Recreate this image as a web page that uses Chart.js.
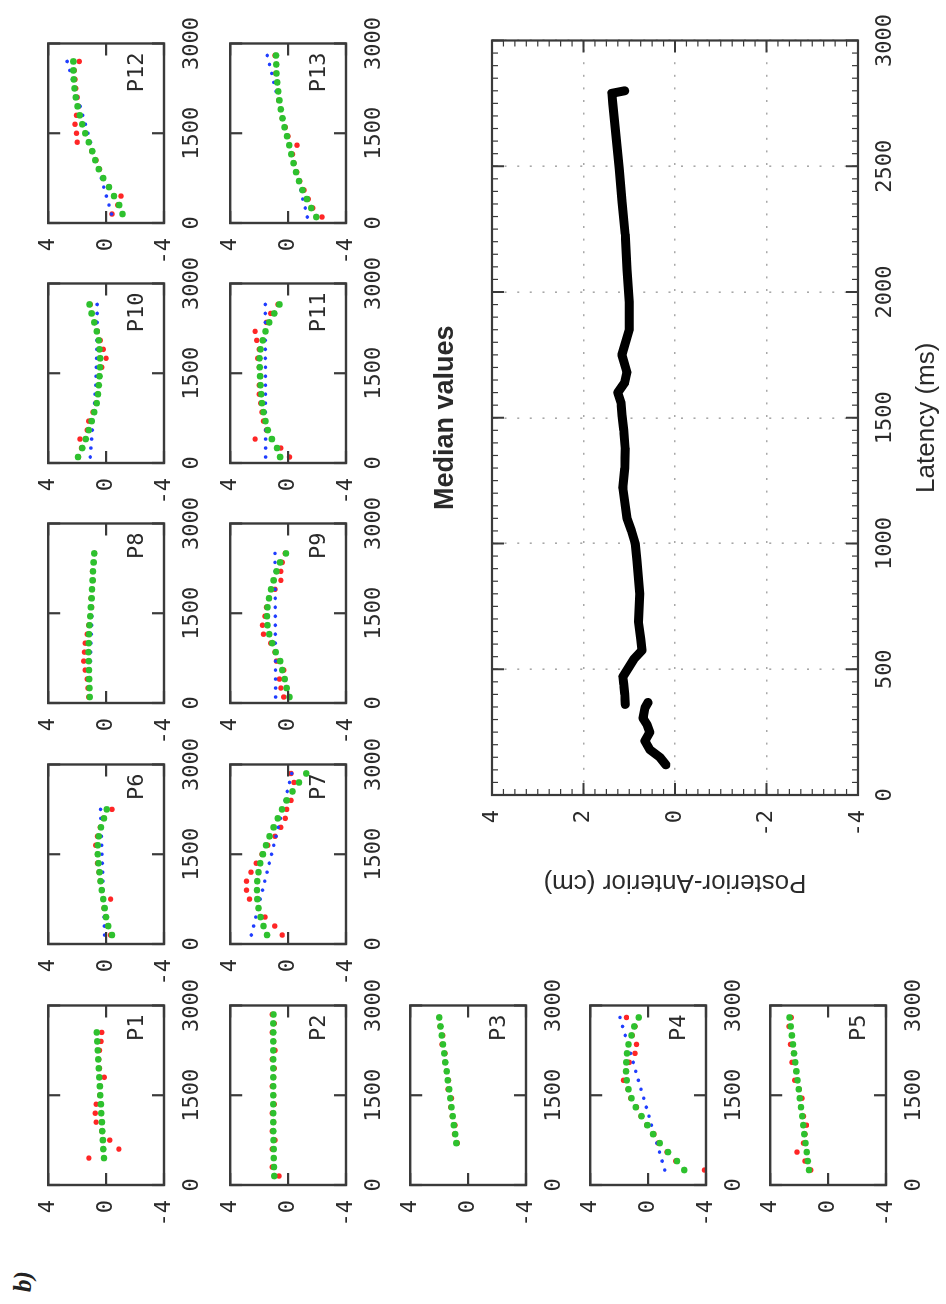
<!DOCTYPE html>
<html>
<head>
<meta charset="utf-8">
<script src="https://cdn.jsdelivr.net/npm/chart.js@4.4.0/dist/chart.umd.min.js"></script>
<style>
  html, body { margin: 0; padding: 0; background: #fff; width: 946px; height: 1304px; overflow: hidden; }
  /* the figure is drawn upright (1304 x 946) and then turned a quarter left */
  #fig { position: absolute; left: 0; top: 0; width: 1304px; height: 946px;
         transform-origin: 0 0; transform: translate(0, 1304px) rotate(-90deg); }
  #fig canvas { position: absolute; }
  #tag { position: absolute; left: 12px; top: 9px; font: italic bold 25px "Liberation Serif", serif; color: #222; }
</style>
</head>
<body>
<div id="fig"><div id="tag">b)</div></div>
<script>
// ---------- data: latency (ms) / posterior-anterior (cm) ----------
const p1Latency = [450, 600, 750, 900, 1050, 1200, 1350, 1500, 1650, 1800, 1950, 2100, 2250, 2400, 2550];
const p1Red   = [1.19, -0.88, -0.25, 0.3, 0.69, 0.75, 0.69, 0.45, 0.4, 0.13, 0.45, 0.5, 0.45, 0.35, 0.3];
const p1Blue  = [0.18, 0.21, 0.25, 0.28, 0.31, 0.34, 0.38, 0.41, 0.44, 0.48, 0.51, 0.54, 0.57, 0.61, 0.64];
const p1Green = [0.15, 0.19, 0.22, 0.26, 0.29, 0.33, 0.36, 0.40, 0.43, 0.47, 0.51, 0.54, 0.58, 0.61, 0.65];

const p2Latency = [150, 300, 450, 600, 750, 900, 1050, 1200, 1350, 1500, 1650, 1800, 1950, 2100, 2250, 2400, 2550, 2700, 2850];
const p2Red   = [0.63, 1.1, 1.0, 1.1, 0.9, 1.1, 1.0, 1.1, 0.95, 1.0, 1.1, 1.0, 0.95, 1.1, 0.9, 1.0, 1.1, 0.95, 1.1];
const p2Blue  = [0.98, 0.98, 0.99, 0.99, 1.0, 1.0, 1.0, 1.01, 1.01, 1.01, 1.02, 1.02, 1.02, 1.03, 1.03, 1.03, 1.04, 1.04, 1.04];
const p2Green = [0.95, 0.97, 0.99, 1.0, 1.01, 1.02, 1.03, 1.03, 1.03, 1.03, 1.03, 1.03, 1.03, 1.03, 1.03, 1.03, 1.02, 1.02, 1.01];

const p3Latency = [700, 850, 1000, 1150, 1300, 1450, 1600, 1750, 1900, 2050, 2200, 2350, 2500, 2650, 2800];
const p3Red   = [0.75, 0.95, 0.9, 1.1, 1.2, 1.15, 1.4, 1.35, 1.5, 1.6, 1.6, 1.8, 1.75, 1.95, 2.0];
const p3Blue  = [0.80, 0.89, 0.97, 1.06, 1.14, 1.23, 1.31, 1.40, 1.48, 1.57, 1.65, 1.74, 1.82, 1.91, 1.99];
const p3Green = [0.81, 0.89, 0.98, 1.06, 1.15, 1.23, 1.31, 1.40, 1.48, 1.57, 1.65, 1.73, 1.82, 1.90, 1.99];

const p4Latency = [250, 400, 550, 700, 850, 1000, 1150, 1300, 1450, 1600, 1750, 1900, 2050, 2200, 2350, 2500, 2650, 2800];
const p4Red   = [-3.9, -1.9, -1.3, -0.7, -0.4, 0.1, 0.5, 0.8, 1.2, 1.4, 1.7, 1.5, 1.3, 0.9, 0.8, 1.1, 0.9, 1.5];
const p4Blue  = [-1.15, -0.97, -0.79, -0.60, -0.42, -0.24, -0.06, 0.12, 0.30, 0.49, 0.67, 0.85, 1.03, 1.21, 1.39, 1.58, 1.76, 1.94];
const p4Green = [-2.5, -2.0, -1.38, -0.8, -0.35, 0.05, 0.45, 0.85, 1.15, 1.35, 1.48, 1.52, 1.5, 1.45, 1.35, 1.15, 0.95, 0.65];

const p5Latency = [250, 400, 550, 700, 850, 1000, 1150, 1300, 1450, 1600, 1750, 1900, 2050, 2200, 2350, 2500, 2650, 2800];
const p5Red   = [1.2, 1.6, 2.15, 1.7, 1.6, 1.5, 1.7, 1.9, 1.8, 2.0, 2.3, 2.2, 2.5, 2.4, 2.6, 2.5, 2.7, 2.55];
const p5Blue  = [1.35, 1.43, 1.50, 1.58, 1.66, 1.73, 1.81, 1.89, 1.96, 2.04, 2.12, 2.19, 2.27, 2.35, 2.42, 2.50, 2.58, 2.65];
const p5Green = [1.32, 1.40, 1.48, 1.56, 1.64, 1.71, 1.79, 1.87, 1.95, 2.03, 2.11, 2.19, 2.27, 2.35, 2.43, 2.50, 2.58, 2.66];

const p6Latency = [150, 300, 450, 600, 750, 900, 1050, 1200, 1350, 1500, 1650, 1800, 1950, 2100, 2250];
const p6Red   = [-0.3, -0.1, 0.05, 0.15, -0.31, 0.3, 0.4, 0.5, 0.6, 0.6, 0.72, 0.6, 0.4, 0.2, -0.41];
const p6Blue  = [0.1, 0.12, 0.14, 0.16, 0.18, 0.2, 0.22, 0.24, 0.26, 0.28, 0.3, 0.32, 0.34, 0.36, 0.38];
const p6Green = [-0.41, -0.15, 0.0, 0.1, 0.2, 0.3, 0.38, 0.45, 0.52, 0.58, 0.58, 0.5, 0.35, 0.15, -0.05];

const p7Latency = [150, 300, 450, 600, 750, 900, 1050, 1200, 1350, 1500, 1650, 1800, 1950, 2100, 2250, 2400, 2550, 2700, 2850];
const p7Red   = [0.41, 0.92, 1.6, 2.05, 2.67, 2.87, 2.87, 2.56, 2.2, 1.8, 1.4, 0.9, 0.51, 0.2, 0.1, -0.2, -0.3, -0.4, -0.2];
const p7Blue  = [2.54, 2.38, 2.23, 2.07, 1.92, 1.76, 1.61, 1.45, 1.30, 1.14, 0.99, 0.83, 0.68, 0.52, 0.37, 0.21, 0.06, -0.10, -0.25];
const p7Green = [1.45, 1.7, 1.9, 2.05, 2.12, 2.15, 2.13, 2.05, 1.92, 1.74, 1.52, 1.28, 1.0, 0.72, 0.42, 0.1, -0.3, -0.75, -1.25];

const p8Latency = [100, 250, 400, 550, 700, 850, 1000, 1150, 1300, 1450, 1600, 1750, 1900, 2050, 2200, 2350, 2500];
const p8Red   = [1.2, 1.25, 1.3, 1.45, 1.54, 1.5, 1.44, 1.3, 1.2, 1.1, 1.0, 1.05, 0.95, 0.9, 0.95, 0.85, 0.8];
const p8Blue  = [1.15, 1.13, 1.11, 1.09, 1.07, 1.06, 1.04, 1.02, 1.0, 0.98, 0.96, 0.94, 0.92, 0.91, 0.89, 0.87, 0.85];
const p8Green = [1.13, 1.15, 1.17, 1.18, 1.2, 1.22, 1.2, 1.18, 1.15, 1.1, 1.05, 1.0, 0.97, 0.93, 0.9, 0.86, 0.82];

const p9Latency = [100, 250, 400, 550, 700, 850, 1000, 1150, 1300, 1450, 1600, 1750, 1900, 2050, 2200, 2350, 2500];
const p9Red   = [0.3, 0.5, 0.6, 0.3, 0.8, 0.9, 1.2, 1.7, 1.77, 1.6, 1.5, 1.3, 0.9, 0.5, 0.5, 0.4, 0.2];
const p9Blue  = [0.86, 0.86, 0.86, 0.87, 0.87, 0.87, 0.88, 0.88, 0.88, 0.88, 0.89, 0.89, 0.89, 0.9, 0.9, 0.9, 0.9];
const p9Green = [-0.1, 0.1, 0.23, 0.4, 0.55, 0.85, 1.1, 1.3, 1.42, 1.46, 1.42, 1.32, 1.18, 1.0, 0.8, 0.55, 0.15];

const p10Latency = [100, 250, 400, 550, 700, 850, 1000, 1150, 1300, 1450, 1600, 1750, 1900, 2050, 2200, 2350, 2500, 2650];
const p10Red   = [1.9, 1.7, 1.8, 1.3, 1.2, 0.9, 0.7, 0.6, 0.5, 0.5, 0.3, 0.0, 0.2, 0.4, 0.6, 0.8, 1.0, 1.1];
const p10Blue  = [1.1, 1.05, 1.0, 0.95, 0.9, 0.85, 0.8, 0.76, 0.72, 0.7, 0.68, 0.66, 0.65, 0.64, 0.63, 0.62, 0.62, 0.62];
const p10Green = [1.94, 1.64, 1.4, 1.2, 1.0, 0.82, 0.65, 0.56, 0.5, 0.45, 0.42, 0.41, 0.45, 0.5, 0.65, 0.82, 1.0, 1.15];

const p11Latency = [100, 250, 400, 550, 700, 850, 1000, 1150, 1300, 1450, 1600, 1750, 1900, 2050, 2200, 2350, 2500, 2650];
const p11Red   = [-0.1, 0.5, 2.28, 1.5, 1.7, 1.8, 1.9, 2.0, 2.0, 1.9, 2.0, 2.1, 2.0, 2.17, 2.28, 1.5, 1.2, 0.7];
const p11Blue  = [1.55, 1.55, 1.55, 1.56, 1.56, 1.56, 1.56, 1.56, 1.56, 1.56, 1.56, 1.57, 1.57, 1.57, 1.57, 1.57, 1.57, 1.57];
const p11Green = [0.55, 0.76, 1.12, 1.4, 1.56, 1.7, 1.8, 1.86, 1.9, 1.93, 1.95, 1.97, 1.9, 1.75, 1.56, 1.3, 0.95, 0.6];

const p12Latency = [150, 300, 450, 600, 750, 900, 1050, 1200, 1350, 1500, 1650, 1800, 1950, 2100, 2250, 2400, 2550, 2700];
const p12Red   = [-0.41, -0.8, -1.03, -0.2, 0.2, 0.45, 0.7, 1.0, 2.0, 2.05, 2.15, 2.05, 1.9, 2.0, 2.1, 2.15, 2.2, 1.85];
const p12Blue  = [-0.38, -0.20, -0.02, 0.16, 0.34, 0.52, 0.70, 0.89, 1.07, 1.25, 1.43, 1.61, 1.79, 1.97, 2.15, 2.33, 2.51, 2.69];
const p12Green = [-1.13, -0.9, -0.55, -0.2, 0.2, 0.5, 0.75, 0.95, 1.2, 1.44, 1.65, 1.82, 1.97, 2.1, 2.18, 2.23, 2.26, 2.26];

const p13Latency = [100, 250, 400, 550, 700, 850, 1000, 1150, 1300, 1450, 1600, 1750, 1900, 2050, 2200, 2350, 2500, 2650, 2800];
const p13Red   = [-2.34, -1.7, -1.4, -1.1, -0.8, -0.6, -0.4, -0.3, -0.62, 0.0, 0.2, 0.4, 0.5, 0.65, 0.7, 0.75, 0.85, 0.8, 0.9];
const p13Blue  = [-1.33, -1.18, -1.02, -0.87, -0.71, -0.56, -0.41, -0.25, -0.10, 0.06, 0.21, 0.36, 0.52, 0.67, 0.83, 0.98, 1.13, 1.29, 1.44];
const p13Green = [-1.94, -1.6, -1.3, -1.0, -0.75, -0.55, -0.38, -0.22, -0.08, 0.08, 0.25, 0.38, 0.5, 0.6, 0.68, 0.75, 0.8, 0.82, 0.83];

// median trace, two pieces (break near 370 ms)
const medianEarlyLatency = [120, 150, 180, 215, 250, 280, 305, 345, 368];
const medianEarlyPA      = [0.2, 0.33, 0.55, 0.66, 0.55, 0.61, 0.70, 0.66, 0.59];
const medianLateLatency  = [360, 400, 440, 470, 505, 540, 575, 620, 690, 800, 930, 1000, 1050, 1100, 1220, 1300, 1380, 1450, 1510, 1560, 1600, 1640, 1680, 1750, 1850, 1960, 2090, 2230, 2360, 2490, 2620, 2750, 2790, 2800];
const medianLatePA       = [1.09, 1.1, 1.12, 1.14, 1.02, 0.9, 0.72, 0.75, 0.8, 0.77, 0.83, 0.87, 0.95, 1.05, 1.14, 1.1, 1.09, 1.12, 1.16, 1.18, 1.25, 1.1, 1.05, 1.16, 1.0, 1.0, 1.05, 1.09, 1.16, 1.22, 1.29, 1.36, 1.38, 1.1];

// ---------- layout ----------
const MONO = '"DejaVu Sans Mono", monospace';
const SANS = '"Liberation Sans", Arial, sans-serif';
Chart.defaults.font.family = MONO;
Chart.defaults.color = '#2a2a2a';

const fig = document.getElementById('fig');
const BOX_W = 186, BOX_H = 129;
const PAD_L = 55, PAD_T = 15, PAD_R = 35, PAD_B = 45;
const colU = [119, 360, 601, 841, 1081];
const rowV = [35, 217, 397, 577, 757];

const panels = [
  { name: 'P1', col: 0, row: 0, t: p1Latency, red: p1Red, blue: p1Blue, green: p1Green },
  { name: 'P2', col: 0, row: 1, t: p2Latency, red: p2Red, blue: p2Blue, green: p2Green },
  { name: 'P3', col: 0, row: 2, t: p3Latency, red: p3Red, blue: p3Blue, green: p3Green },
  { name: 'P4', col: 0, row: 3, t: p4Latency, red: p4Red, blue: p4Blue, green: p4Green },
  { name: 'P5', col: 0, row: 4, t: p5Latency, red: p5Red, blue: p5Blue, green: p5Green },
  { name: 'P6', col: 1, row: 0, t: p6Latency, red: p6Red, blue: p6Blue, green: p6Green },
  { name: 'P7', col: 1, row: 1, t: p7Latency, red: p7Red, blue: p7Blue, green: p7Green },
  { name: 'P8', col: 2, row: 0, t: p8Latency, red: p8Red, blue: p8Blue, green: p8Green },
  { name: 'P9', col: 2, row: 1, t: p9Latency, red: p9Red, blue: p9Blue, green: p9Green },
  { name: 'P10', col: 3, row: 0, t: p10Latency, red: p10Red, blue: p10Blue, green: p10Green },
  { name: 'P11', col: 3, row: 1, t: p11Latency, red: p11Red, blue: p11Blue, green: p11Green },
  { name: 'P12', col: 4, row: 0, t: p12Latency, red: p12Red, blue: p12Blue, green: p12Green },
  { name: 'P13', col: 4, row: 1, t: p13Latency, red: p13Red, blue: p13Blue, green: p13Green },
];

// frame, inward ticks on all four sides, corner label / title
const frame = {
  id: 'frame',
  afterDatasetsDraw(chart, args, o) {
    const { ctx, chartArea: a, scales: { x, y } } = chart;
    const seg = (x1, y1, x2, y2) => { ctx.beginPath(); ctx.moveTo(x1, y1); ctx.lineTo(x2, y2); ctx.stroke(); };
    ctx.save();
    ctx.strokeStyle = o.color;
    o.xTicks.forEach(tk => {
      ctx.lineWidth = tk.width;
      for (let v = x.min; v <= x.max + 1e-6; v += tk.step) {
        const px = x.getPixelForValue(v);
        seg(px, a.bottom, px, a.bottom - tk.len);
        seg(px, a.top, px, a.top + tk.len);
      }
    });
    o.yTicks.forEach(tk => {
      ctx.lineWidth = tk.width;
      for (let v = y.min; v <= y.max + 1e-6; v += tk.step) {
        const py = y.getPixelForValue(v);
        seg(a.left, py, a.left + tk.len, py);
        seg(a.right, py, a.right - tk.len, py);
      }
    });
    ctx.lineWidth = o.width;
    ctx.strokeRect(a.left, a.top, a.right - a.left, a.bottom - a.top);
    ctx.fillStyle = '#2a2a2a';
    ctx.textBaseline = 'middle';
    if (o.label) {
      ctx.font = '22px ' + MONO;
      ctx.textAlign = 'right';
      ctx.fillText(o.label, a.right - 9, a.bottom - 27);
    }
    if (o.title) {
      ctx.font = 'bold 27px ' + SANS;
      ctx.textAlign = 'center';
      ctx.fillText(o.title, (a.left + a.right) / 2, a.top - 46);
    }
    ctx.restore();
  }
};

function addCanvas(left, top, w, h) {
  const cv = document.createElement('canvas');
  cv.width = w; cv.height = h;
  cv.style.left = left + 'px'; cv.style.top = top + 'px';
  cv.style.width = w + 'px'; cv.style.height = h + 'px';
  fig.appendChild(cv);
  return cv;
}

function dots(t, vals, color, r) {
  return {
    data: t.map((v, i) => ({ x: v, y: vals[i] })),
    backgroundColor: color, borderWidth: 0, pointRadius: r, pointHoverRadius: r
  };
}

const plain = v => String(v);

panels.forEach(p => {
  const cv = addCanvas(colU[p.col] - PAD_L, rowV[p.row] - PAD_T, PAD_L + BOX_W + PAD_R, PAD_T + BOX_H + PAD_B);
  new Chart(cv, {
    type: 'scatter',
    data: {
      datasets: [
        dots(p.t, p.green, '#2ec12e', 3.3),  // first dataset is painted last (on top)
        dots(p.t, p.blue, '#1f3dff', 1.8),
        dots(p.t, p.red, '#ff2626', 2.7),
      ]
    },
    options: {
      responsive: false, animation: false, devicePixelRatio: 1,
      layout: { padding: { left: 0, top: PAD_T, right: PAD_R, bottom: 0 } },
      plugins: {
        legend: { display: false }, tooltip: { enabled: false },
        frame: { color: '#3a3a3a', width: 2.4, label: p.name,
                 xTicks: [{ step: 1500, len: 12, width: 2.2 }],
                 yTicks: [{ step: 4, len: 12, width: 2.2 }] }
      },
      scales: {
        x: {
          type: 'linear', min: 0, max: 3000,
          afterFit: s => { s.height = PAD_B; },
          grid: { display: false, drawTicks: false }, border: { display: false },
          ticks: { stepSize: 1500, padding: 15, maxRotation: 0, autoSkip: false, callback: plain, font: { size: 22 } }
        },
        y: {
          type: 'linear', min: -4, max: 4,
          afterFit: s => { s.width = PAD_L; },
          grid: { display: false, drawTicks: false }, border: { display: false },
          ticks: { stepSize: 4, padding: 15, callback: plain, font: { size: 22 } }
        }
      }
    },
    plugins: [frame]
  });
});

// ---------- median chart ----------
const big = addCanvas(380, 400, 924, 546);
new Chart(big, {
  type: 'scatter',
  data: {
    datasets: [
      { data: medianEarlyLatency.map((t, i) => ({ x: t, y: medianEarlyPA[i] })), showLine: true,
        borderColor: '#000', borderWidth: 9, borderCapStyle: 'round', borderJoinStyle: 'round', pointRadius: 0 },
      { data: medianLateLatency.map((t, i) => ({ x: t, y: medianLatePA[i] })), showLine: true,
        borderColor: '#000', borderWidth: 9, borderCapStyle: 'round', borderJoinStyle: 'round', pointRadius: 0 }
    ]
  },
  options: {
    responsive: false, animation: false, devicePixelRatio: 1,
    layout: { padding: { left: 0, top: 92, right: 38, bottom: 0 } },
    plugins: {
      legend: { display: false }, tooltip: { enabled: false },
      frame: { color: '#3a3a3a', width: 2.2, title: 'Median values',
               xTicks: [{ step: 500, len: 12, width: 2 }, { step: 50, len: 6, width: 1.2 }],
               yTicks: [{ step: 2, len: 12, width: 2 }, { step: 0.25, len: 6, width: 1.2 }] }
    },
    scales: {
      x: {
        type: 'linear', min: 0, max: 3000,
        afterFit: s => { s.height = 88; },
        grid: { color: '#a8a8a8', lineWidth: 1.6, drawTicks: false },
        border: { display: false, dash: [2, 10.6] },
        ticks: { stepSize: 500, padding: 14, maxRotation: 0, autoSkip: false, callback: plain, font: { size: 22 } },
        title: { display: true, text: 'Latency (ms)', font: { family: SANS, size: 26 }, padding: { top: 0, bottom: 4 } }
      },
      y: {
        type: 'linear', min: -4, max: 4,
        afterFit: s => { s.width = 129; },
        grid: { color: '#a8a8a8', lineWidth: 1.6, drawTicks: false },
        border: { display: false, dash: [2, 10.6] },
        ticks: { stepSize: 2, padding: 15, callback: plain, font: { size: 22 } },
        title: { display: true, text: 'Posterior-Anterior (cm)', font: { family: SANS, size: 26 }, padding: { top: 26, bottom: 0 } }
      }
    }
  },
  plugins: [frame]
});
</script>
</body>
</html>
